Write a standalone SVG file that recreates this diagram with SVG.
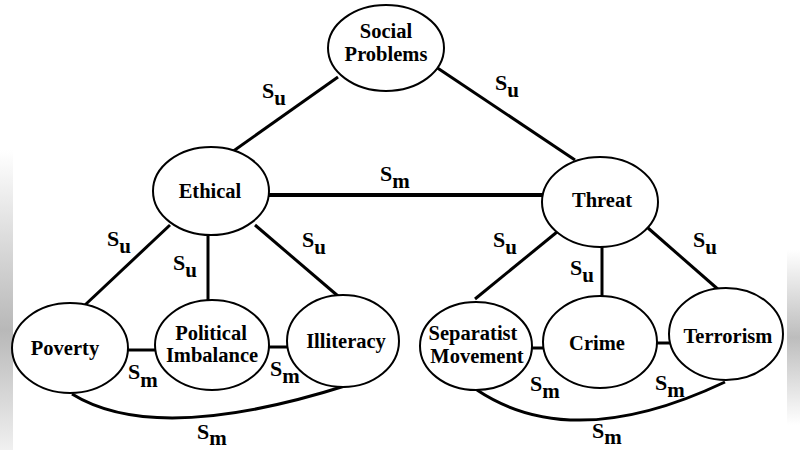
<svg xmlns="http://www.w3.org/2000/svg" width="800" height="450" viewBox="0 0 800 450">
<defs>
<style>
.node ellipse{fill:#fff;stroke:#000;stroke-width:2}
.node text{font-family:'Liberation Serif','DejaVu Serif','Times New Roman',serif;font-weight:bold;font-size:20.5px;text-anchor:middle;fill:#000}
.edges line,.edges path{stroke:#000;stroke-width:3;fill:none}
.lbl{font-family:'Liberation Serif','DejaVu Serif','Times New Roman',serif;font-weight:bold;font-size:22px;fill:#000}
.sub{font-size:21px}
</style>
<linearGradient id="gl" x1="0" y1="0" x2="0" y2="1">
<stop offset="0" stop-color="#fff"/>
<stop offset="0.6" stop-color="#b8b8b8"/>
<stop offset="1" stop-color="#f0f0f0"/>
</linearGradient>
<linearGradient id="gr" x1="0" y1="0" x2="0" y2="1">
<stop offset="0" stop-color="#fff"/>
<stop offset="0.5" stop-color="#bdbdbd"/>
<stop offset="1" stop-color="#fff"/>
</linearGradient>
</defs>
<rect width="800" height="450" fill="#fff"/>
<rect x="0" y="150" width="13" height="300" fill="url(#gl)"/>
<rect x="787" y="250" width="13" height="175" fill="url(#gr)"/>

<g id="connectors" class="edges">
<line x1="338" y1="77" x2="232" y2="152"/>
<line x1="436" y1="67" x2="575" y2="160"/>
<line x1="268" y1="195" x2="543" y2="195" style="stroke-width:4"/>
<line x1="170" y1="225" x2="85" y2="305"/>
<line x1="208" y1="236" x2="208" y2="301"/>
<line x1="255" y1="225" x2="338" y2="296"/>
<line x1="557" y1="232" x2="475" y2="299"/>
<line x1="602" y1="247" x2="602" y2="298"/>
<line x1="648" y1="228" x2="720" y2="291"/>
<line x1="127" y1="350" x2="156" y2="350"/>
<line x1="268" y1="347" x2="288" y2="347"/>
<line x1="531" y1="348" x2="544" y2="348"/>
<line x1="656" y1="343" x2="671" y2="343"/>
<path d="M72 394 Q156 446 348 385"/>
<path d="M477 390 Q573 454 725 382"/>
</g>

<g id="n-social" class="node"><ellipse cx="386" cy="48" rx="58" ry="43"/><text x="386" y="38">Social</text><text x="386" y="61">Problems</text></g>
<g id="n-ethical" class="node"><ellipse cx="211" cy="191" rx="58" ry="44"/><text x="210" y="198">Ethical</text></g>
<g id="n-threat" class="node"><ellipse cx="600" cy="202" rx="58" ry="45"/><text x="602" y="207">Threat</text></g>
<g id="n-poverty" class="node"><ellipse cx="70" cy="348" rx="58" ry="45"/><text x="65" y="355">Poverty</text></g>
<g id="n-political" class="node"><ellipse cx="212" cy="345" rx="57" ry="45"/><text x="211" y="340">Political</text><text x="212" y="362">Imbalance</text></g>
<g id="n-illiteracy" class="node"><ellipse cx="343" cy="341" rx="56" ry="46"/><text x="346" y="348">Illiteracy</text></g>
<g id="n-separatist" class="node"><ellipse cx="476" cy="346" rx="56" ry="44"/><text x="473" y="340">Separatist</text><text x="477" y="363">Movement</text></g>
<g id="n-crime" class="node"><ellipse cx="600" cy="342" rx="57" ry="46"/><text x="597" y="350">Crime</text></g>
<g id="n-terrorism" class="node"><ellipse cx="726" cy="334" rx="57" ry="46"/><text x="728" y="343">Terrorism</text></g>

<g id="labels">
<text class="lbl" x="262" y="98">S<tspan class="sub" dy="7">u</tspan></text>
<text class="lbl" x="495" y="90">S<tspan class="sub" dy="7">u</tspan></text>
<text class="lbl" x="380" y="181">S<tspan class="sub" dy="7">m</tspan></text>
<text class="lbl" x="107" y="246">S<tspan class="sub" dy="7">u</tspan></text>
<text class="lbl" x="173" y="270">S<tspan class="sub" dy="7">u</tspan></text>
<text class="lbl" x="302" y="247">S<tspan class="sub" dy="7">u</tspan></text>
<text class="lbl" x="493" y="247">S<tspan class="sub" dy="7">u</tspan></text>
<text class="lbl" x="570" y="275">S<tspan class="sub" dy="7">u</tspan></text>
<text class="lbl" x="693" y="247">S<tspan class="sub" dy="7">u</tspan></text>
<text class="lbl" x="128" y="379">S<tspan class="sub" dy="8">m</tspan></text>
<text class="lbl" x="270" y="376">S<tspan class="sub" dy="7">m</tspan></text>
<text class="lbl" x="197" y="439">S<tspan class="sub" dy="6">m</tspan></text>
<text class="lbl" x="530" y="391">S<tspan class="sub" dy="7">m</tspan></text>
<text class="lbl" x="655" y="390">S<tspan class="sub" dy="7">m</tspan></text>
<text class="lbl" x="592" y="438">S<tspan class="sub" dy="6">m</tspan></text>
</g>
</svg>
